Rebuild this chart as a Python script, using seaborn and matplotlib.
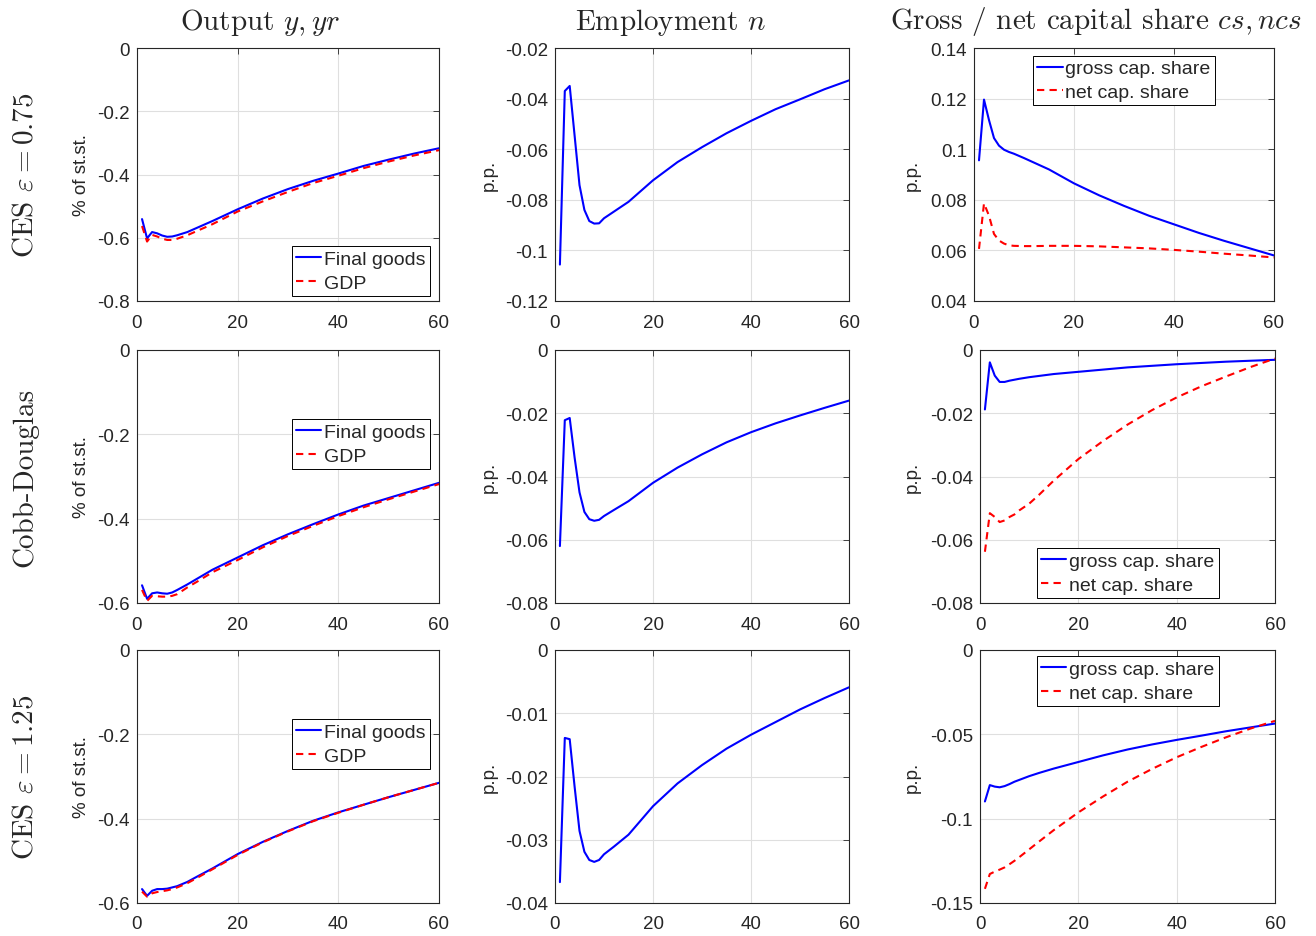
import numpy as np
import matplotlib
matplotlib.use("Agg")
import matplotlib.pyplot as plt
import seaborn as sns

# ---- data (quarters after the shock) ----
T_Y  = [1, 2, 3, 4, 5, 6, 7, 8, 10, 12, 15, 20, 25, 30, 35, 40, 45, 50, 55, 60]
T_N  = [1, 2, 3, 4, 5, 6, 7, 8, 9, 10, 12, 15, 20, 25, 30, 35, 40, 45, 50, 55, 60]
T_CS = [1, 2, 3, 4, 5, 6, 7, 8, 10, 12, 15, 20, 25, 30, 35, 40, 45, 50, 55, 60]

# output, % of steady state
y075_final = [-0.541, -0.602, -0.582, -0.586, -0.593, -0.597, -0.596, -0.592, -0.582, -0.568, -0.547,
              -0.510, -0.476, -0.446, -0.420, -0.397, -0.373, -0.353, -0.334, -0.317]
y075_gdp   = [-0.563, -0.612, -0.591, -0.596, -0.603, -0.607, -0.607, -0.603, -0.592, -0.578, -0.557,
              -0.517, -0.485, -0.455, -0.427, -0.404, -0.380, -0.359, -0.340, -0.323]
ycd_final  = [-0.558, -0.590, -0.577, -0.575, -0.577, -0.578, -0.575, -0.569, -0.556, -0.542, -0.521,
              -0.492, -0.463, -0.437, -0.413, -0.390, -0.369, -0.351, -0.333, -0.315]
ycd_gdp    = [-0.569, -0.595, -0.583, -0.584, -0.585, -0.585, -0.583, -0.579, -0.563, -0.549, -0.527,
              -0.498, -0.468, -0.441, -0.417, -0.394, -0.373, -0.354, -0.336, -0.318]
y125_final = [-0.567, -0.583, -0.571, -0.567, -0.567, -0.566, -0.563, -0.560, -0.550, -0.537, -0.518,
              -0.484, -0.455, -0.429, -0.405, -0.385, -0.367, -0.349, -0.332, -0.315]
y125_gdp   = [-0.573, -0.585, -0.577, -0.574, -0.572, -0.570, -0.567, -0.563, -0.553, -0.540, -0.520,
              -0.486, -0.456, -0.430, -0.406, -0.386, -0.367, -0.349, -0.332, -0.315]

# employment, p.p.
n075 = [-0.1056, -0.0370, -0.0350, -0.0546, -0.0742, -0.0840, -0.0884, -0.0894, -0.0893, -0.0873, -0.0847,
        -0.0808, -0.0723, -0.0651, -0.0592, -0.0537, -0.0488, -0.0442, -0.0403, -0.0363, -0.0328]
ncd  = [-0.0620, -0.0222, -0.0215, -0.0340, -0.0450, -0.0512, -0.0535, -0.0540, -0.0537, -0.0525, -0.0506,
        -0.0478, -0.0420, -0.0372, -0.0330, -0.0292, -0.0260, -0.0232, -0.0207, -0.0183, -0.0160]
n125 = [-0.0367, -0.0139, -0.0141, -0.0216, -0.0286, -0.0319, -0.0332, -0.0335, -0.0332, -0.0323, -0.0311,
        -0.0292, -0.0247, -0.0211, -0.0182, -0.0156, -0.0134, -0.0114, -0.0094, -0.0076, -0.0059]

# gross / net capital share, p.p.
cs075_gross = [0.0956, 0.1196, 0.1115, 0.1044, 0.1014, 0.0998, 0.0989, 0.0982, 0.0965, 0.0947, 0.0920,
               0.0865, 0.0818, 0.0776, 0.0737, 0.0703, 0.0669, 0.0638, 0.0609, 0.0580]
cs075_net   = [0.0606, 0.0786, 0.0737, 0.0665, 0.0639, 0.0627, 0.0620, 0.0618, 0.0617, 0.0617, 0.0618,
               0.0618, 0.0616, 0.0612, 0.0608, 0.0602, 0.0595, 0.0587, 0.0580, 0.0572]
cscd_gross  = [-0.0188, -0.0039, -0.0081, -0.0101, -0.0101, -0.0097, -0.0094, -0.0091, -0.0086, -0.0082, -0.0076,
               -0.0069, -0.0062, -0.0055, -0.0050, -0.0045, -0.0041, -0.0037, -0.0034, -0.0031]
cscd_net    = [-0.0638, -0.0516, -0.0528, -0.0544, -0.0539, -0.0528, -0.0520, -0.0507, -0.0486, -0.0458, -0.0413,
               -0.0345, -0.0288, -0.0236, -0.0190, -0.0150, -0.0115, -0.0084, -0.0054, -0.0027]
cs125_gross = [-0.0898, -0.0801, -0.0810, -0.0814, -0.0807, -0.0795, -0.0781, -0.0770, -0.0748, -0.0729, -0.0703,
               -0.0664, -0.0625, -0.0590, -0.0560, -0.0533, -0.0508, -0.0482, -0.0459, -0.0436]
cs125_net   = [-0.1416, -0.1328, -0.1314, -0.1302, -0.1289, -0.1270, -0.1250, -0.1228, -0.1182, -0.1136, -0.1068,
               -0.0963, -0.0869, -0.0781, -0.0705, -0.0636, -0.0575, -0.0518, -0.0466, -0.0420]

COL_TITLES = [r"Output $y, yr$", r"Employment $n$", r"Gross / net capital share $cs, ncs$"]
ROW_TITLES = [r"CES $\varepsilon = 0.75$", "Cobb-Douglas", r"CES $\varepsilon = 1.25$"]
Y_LABELS   = ["% of st.st.", "p.p.", "p.p."]
LEG_Y      = ["Final goods", "GDP"]
LEG_CS     = ["gross cap. share", "net cap. share"]

# y-limits and tick step per panel
YLIMS = [[(-0.8, 0), (-0.12, -0.02), (0.04, 0.14)],
         [(-0.6, 0), (-0.08, 0), (-0.08, 0)],
         [(-0.6, 0), (-0.04, 0), (-0.15, 0)]]
YSTEP = [[0.2, 0.02, 0.02],
         [0.2, 0.02, 0.02],
         [0.2, 0.01, 0.05]]

# ---- layout (pixels) ----
W, H = 1316, 937
ROW_TOP = [49, 351, 651]
AX_H = 253
COL_X = [[(137, 302), (555, 294), (974, 300)],
         [(137, 302), (555, 294), (980, 295)],
         [(137, 302), (555, 294), (980, 295)]]

sns.set_theme(style="whitegrid")
plt.rcParams.update({
    "font.family": ["Liberation Sans", "DejaVu Sans"],
    "mathtext.fontset": "cm",
    "axes.unicode_minus": False,
    "axes.edgecolor": "#262626",
    "axes.linewidth": 0.8,
    "grid.color": "#dfdfdf",
    "grid.linewidth": 0.8,
    "xtick.color": "#262626",
    "ytick.color": "#262626",
    "xtick.labelsize": 13.5,
    "ytick.labelsize": 13.5,
})

fig = plt.figure(figsize=(W / 100, H / 100), dpi=100)
fig.patch.set_facecolor("white")

panels = [
    [(y075_final, y075_gdp, T_Y), (n075, None, T_N), (cs075_gross, cs075_net, T_CS)],
    [(ycd_final, ycd_gdp, T_Y), (ncd, None, T_N), (cscd_gross, cscd_net, T_CS)],
    [(y125_final, y125_gdp, T_Y), (n125, None, T_N), (cs125_gross, cs125_net, T_CS)],
]

# legend placement: (loc, anchor in axes fraction)
LEGENDS = [[("lower right", (0.97, 0.02)), None, ("upper center", (0.5, 0.97))],
           [("upper right", (0.97, 0.726)), None, ("lower center", (0.5, 0.02))],
           [("upper right", (0.97, 0.726)), None, ("upper center", (0.5, 0.975))]]

for r in range(3):
    for c in range(3):
        left, width = COL_X[r][c]
        top = ROW_TOP[r]
        ax = fig.add_axes([left / W, 1 - (top + AX_H) / H, width / W, AX_H / H])
        solid, dashed, t = panels[r][c]
        names = LEG_Y if c == 0 else LEG_CS
        sns.lineplot(x=t, y=solid, ax=ax, color="blue", linewidth=1.5,
                     label=names[0] if dashed is not None else None)
        if dashed is not None:
            sns.lineplot(x=t, y=dashed, ax=ax, color="red", linewidth=1.5,
                         linestyle=(0, (3.5, 2.5)), label=names[1])

        lo, hi = YLIMS[r][c]
        step = YSTEP[r][c]
        ax.set_xlim(0, 60)
        ax.set_ylim(lo, hi)
        ax.set_xticks([0, 20, 40, 60])
        ticks = np.round(np.arange(lo, hi + step / 2, step), 4) + 0.0
        ax.set_yticks(ticks)
        ax.set_yticklabels(["%g" % (v + 0.0) for v in ticks])
        ax.tick_params(direction="in", length=4, width=0.6, top=True, right=True)
        ax.tick_params(axis="x", pad=9)
        ax.tick_params(axis="y", pad=5)
        for s in ax.spines.values():
            s.set_visible(True)
            s.set_color("#262626")
        ax.grid(True)

        ax.set_ylabel(Y_LABELS[c], fontsize=13.5, color="#262626")
        lab_right = [90, 498, 921][c]
        ax.yaxis.set_label_coords((lab_right - left) / width, 0.5)

        leg = LEGENDS[r][c]
        if leg is not None:
            lg = ax.legend(loc=leg[0], bbox_to_anchor=leg[1], fontsize=14,
                           frameon=True, fancybox=False, framealpha=1,
                           edgecolor="black", borderpad=0.22, labelspacing=0.3,
                           handlelength=1.3, handletextpad=0.15, borderaxespad=0)
            lg.get_frame().set_linewidth(0.7)
        elif ax.get_legend() is not None:
            ax.get_legend().remove()

for c, x in enumerate([260, 671, 1096]):
    fig.text(x / W, 1 - 22 / H, COL_TITLES[c], family="cmr10", fontsize=21,
             ha="center", va="center")

for r in range(3):
    yc = ROW_TOP[r] + AX_H / 2
    fig.text(25 / W, 1 - yc / H, ROW_TITLES[r], family="cmr10", fontsize=21,
             rotation=90, ha="center", va="center")

fig.savefig("out.png", dpi=100, facecolor="white")
